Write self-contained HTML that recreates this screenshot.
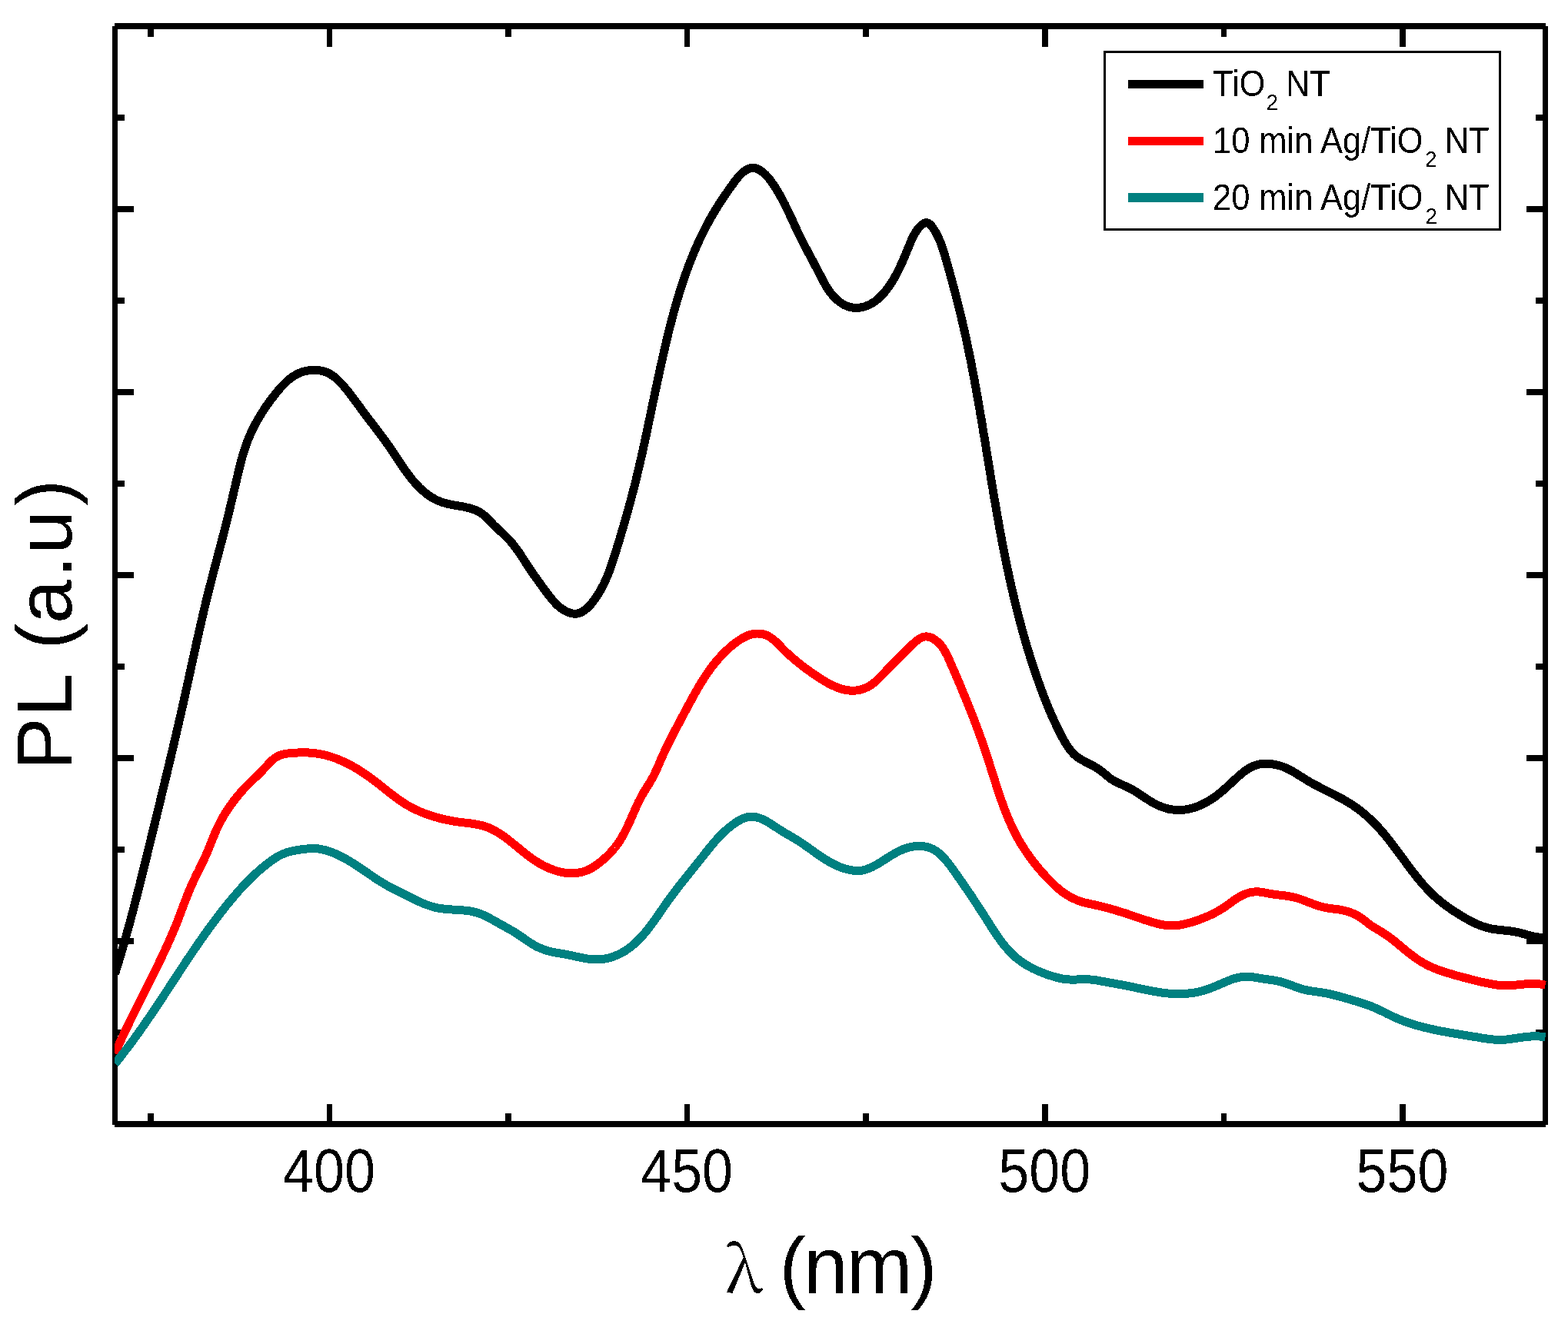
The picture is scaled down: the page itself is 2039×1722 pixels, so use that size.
<!DOCTYPE html>
<html><head><meta charset="utf-8"><title>PL spectra</title><style>html,body{margin:0;padding:0;background:#fff;overflow:hidden}svg{display:block}</style></head><body>
<svg width="2039" height="1722" viewBox="0 0 2039 1722"><defs><filter id="bin" color-interpolation-filters="sRGB"><feComponentTransfer><feFuncA type="discrete" tableValues="0 1"/></feComponentTransfer></filter><clipPath id="pa"><rect x="149" y="30" width="1862" height="1436"/></clipPath></defs><rect width="2039" height="1722" fill="#fff"/><g fill="#000" shape-rendering="crispEdges"><rect x="149" y="30" width="1861" height="8"/><rect x="149" y="1458" width="1861" height="8"/><rect x="146" y="34" width="7" height="1429"/><rect x="2006" y="34" width="7" height="1429"/><rect x="192" y="38" width="8" height="10"/><rect x="192" y="1448" width="8" height="10"/><rect x="425" y="38" width="7" height="23"/><rect x="425" y="1436" width="7" height="22"/><rect x="657" y="38" width="8" height="10"/><rect x="657" y="1448" width="8" height="10"/><rect x="890" y="38" width="7" height="23"/><rect x="890" y="1436" width="7" height="22"/><rect x="1122" y="38" width="8" height="10"/><rect x="1122" y="1448" width="8" height="10"/><rect x="1355" y="38" width="8" height="23"/><rect x="1355" y="1436" width="8" height="22"/><rect x="1588" y="38" width="7" height="10"/><rect x="1588" y="1448" width="7" height="10"/><rect x="1820" y="38" width="8" height="23"/><rect x="1820" y="1436" width="8" height="22"/><rect x="153" y="149" width="9" height="8"/><rect x="1997" y="149" width="9" height="8"/><rect x="153" y="268" width="21" height="8"/><rect x="1985" y="268" width="21" height="8"/><rect x="153" y="387" width="9" height="8"/><rect x="1997" y="387" width="9" height="8"/><rect x="153" y="506" width="21" height="8"/><rect x="1985" y="506" width="21" height="8"/><rect x="153" y="625" width="9" height="8"/><rect x="1997" y="625" width="9" height="8"/><rect x="153" y="744" width="21" height="8"/><rect x="1985" y="744" width="21" height="8"/><rect x="153" y="863" width="9" height="8"/><rect x="1997" y="863" width="9" height="8"/><rect x="153" y="982" width="21" height="8"/><rect x="1985" y="982" width="21" height="8"/><rect x="153" y="1101" width="9" height="8"/><rect x="1997" y="1101" width="9" height="8"/><rect x="153" y="1220" width="21" height="8"/><rect x="1985" y="1220" width="21" height="8"/><rect x="153" y="1339" width="9" height="8"/><rect x="1997" y="1339" width="9" height="8"/></g>
<g clip-path="url(#pa)" fill="none" stroke-width="11" stroke-linejoin="round" stroke-linecap="butt" shape-rendering="crispEdges">
<path stroke="#000000" d="M149.5,1266.5L150.2,1264.1 151.0,1261.7 151.7,1259.3 152.5,1256.9 153.2,1254.6 153.9,1252.2 154.6,1249.8 155.4,1247.4 156.1,1245.0 156.8,1242.6 157.5,1240.2 158.2,1237.8 158.9,1235.4 159.6,1233.0 160.3,1230.6 161.0,1228.2 161.7,1225.8 162.3,1223.4 163.0,1221.0 163.7,1218.6 164.4,1216.2 165.0,1213.7 165.7,1211.3 166.4,1208.9 167.0,1206.5 167.7,1204.1 168.4,1201.7 169.0,1199.3 169.7,1196.9 170.3,1194.4 170.9,1192.0 171.6,1189.6 172.2,1187.2 172.9,1184.8 173.5,1182.4 174.1,1179.9 174.8,1177.5 175.4,1175.1 176.0,1172.7 176.6,1170.3 177.3,1167.8 177.9,1165.4 178.5,1163.0 179.1,1160.6 179.7,1158.2 180.4,1155.7 181.0,1153.3 181.6,1150.9 182.2,1148.5 182.8,1146.0 183.4,1143.6 184.0,1141.2 184.6,1138.8 185.2,1136.3 185.8,1133.9 186.4,1131.5 187.0,1129.1 187.6,1126.6 188.2,1124.2 188.8,1121.8 189.4,1119.3 190.0,1116.9 190.6,1114.5 191.2,1112.1 191.8,1109.6 192.4,1107.2 193.0,1104.8 193.6,1102.3 194.2,1099.9 194.8,1097.5 195.4,1095.1 196.0,1092.6 196.5,1090.2 197.1,1087.8 197.7,1085.3 198.3,1082.9 198.9,1080.5 199.5,1078.1 200.1,1075.6 200.7,1073.2 201.3,1070.8 201.9,1068.3 202.5,1065.9 203.1,1063.5 203.6,1061.1 204.2,1058.6 204.8,1056.2 205.4,1053.8 206.0,1051.3 206.6,1048.9 207.2,1046.5 207.8,1044.1 208.4,1041.6 209.0,1039.2 209.6,1036.8 210.1,1034.3 210.7,1031.9 211.3,1029.5 211.9,1027.0 212.5,1024.6 213.1,1022.2 213.7,1019.8 214.3,1017.3 214.8,1014.9 215.4,1012.5 216.0,1010.0 216.6,1007.6 217.2,1005.2 217.8,1002.7 218.3,1000.3 218.9,997.9 219.5,995.4 220.1,993.0 220.7,990.6 221.2,988.1 221.8,985.7 222.4,983.3 223.0,980.9 223.5,978.4 224.1,976.0 224.7,973.6 225.3,971.1 225.8,968.7 226.4,966.3 227.0,963.8 227.5,961.4 228.1,958.9 228.7,956.5 229.3,954.1 229.8,951.6 230.4,949.2 230.9,946.8 231.5,944.3 232.1,941.9 232.6,939.5 233.2,937.0 233.7,934.6 234.3,932.2 234.9,929.7 235.4,927.3 236.0,924.8 236.5,922.4 237.1,920.0 237.6,917.5 238.2,915.1 238.7,912.6 239.3,910.2 239.8,907.8 240.4,905.3 240.9,902.9 241.4,900.4 242.0,898.0 242.5,895.6 243.1,893.1 243.6,890.7 244.1,888.2 244.7,885.8 245.2,883.4 245.7,880.9 246.3,878.5 246.8,876.0 247.3,873.6 247.9,871.1 248.4,868.7 248.9,866.3 249.5,863.8 250.0,861.4 250.5,858.9 251.1,856.5 251.6,854.0 252.2,851.6 252.7,849.2 253.2,846.7 253.8,844.3 254.3,841.8 254.8,839.4 255.4,837.0 255.9,834.5 256.5,832.1 257.0,829.6 257.6,827.2 258.1,824.8 258.7,822.3 259.2,819.9 259.8,817.4 260.3,815.0 260.9,812.6 261.4,810.1 262.0,807.7 262.6,805.3 263.1,802.8 263.7,800.4 264.3,798.0 264.8,795.5 265.4,793.1 266.0,790.7 266.6,788.2 267.1,785.8 267.7,783.4 268.3,780.9 268.9,778.5 269.5,776.1 270.1,773.6 270.7,771.2 271.3,768.8 271.9,766.4 272.5,763.9 273.1,761.5 273.8,759.1 274.4,756.7 275.0,754.3 275.6,751.8 276.2,749.4 276.9,747.0 277.5,744.6 278.1,742.2 278.8,739.7 279.4,737.3 280.1,734.9 280.7,732.5 281.3,730.1 282.0,727.7 282.6,725.2 283.3,722.8 283.9,720.4 284.5,718.0 285.2,715.6 285.8,713.2 286.5,710.7 287.1,708.3 287.7,705.9 288.4,703.5 289.0,701.1 289.6,698.7 290.3,696.2 290.9,693.8 291.5,691.4 292.1,689.0 292.7,686.5 293.4,684.1 294.0,681.7 294.6,679.3 295.2,676.8 295.8,674.4 296.4,672.0 297.0,669.6 297.6,667.1 298.1,664.7 298.7,662.3 299.3,659.8 299.9,657.4 300.4,655.0 301.0,652.5 301.6,650.1 302.2,647.7 302.7,645.2 303.3,642.8 303.9,640.4 304.4,637.9 305.0,635.5 305.6,633.1 306.1,630.6 306.7,628.2 307.3,625.8 307.8,623.3 308.4,620.9 309.0,618.5 309.6,616.0 310.1,613.6 310.7,611.2 311.3,608.7 311.9,606.3 312.5,603.9 313.2,601.5 313.8,599.0 314.5,596.6 315.1,594.2 315.8,591.8 316.5,589.4 317.3,587.0 318.0,584.7 318.8,582.3 319.6,579.9 320.4,577.6 321.3,575.2 322.2,572.9 323.1,570.6 324.1,568.2 325.1,566.0 326.1,563.7 327.1,561.4 328.2,559.1 329.3,556.9 330.4,554.7 331.6,552.4 332.8,550.2 334.0,548.0 335.2,545.9 336.5,543.7 337.7,541.6 339.0,539.4 340.4,537.3 341.7,535.2 343.1,533.1 344.4,531.0 345.8,528.9 347.3,526.9 348.7,524.8 350.2,522.8 351.6,520.8 353.1,518.8 354.7,516.8 356.2,514.8 357.7,512.9 359.3,510.9 360.9,509.0 362.5,507.1 364.1,505.2 365.8,503.3 367.5,501.5 369.2,499.7 371.0,497.9 372.8,496.2 374.7,494.5 376.6,492.9 378.6,491.4 380.6,490.0 382.7,488.6 384.9,487.4 387.1,486.2 389.4,485.2 391.7,484.2 394.1,483.4 396.5,482.8 398.9,482.2 401.4,481.8 403.9,481.5 406.4,481.3 408.9,481.3 411.4,481.3 413.8,481.6 416.3,481.9 418.8,482.4 421.2,483.0 423.6,483.8 425.9,484.8 428.1,485.9 430.3,487.1 432.4,488.5 434.4,489.9 436.4,491.5 438.2,493.1 440.1,494.9 441.8,496.6 443.6,498.4 445.2,500.3 446.9,502.1 448.5,504.1 450.1,506.0 451.7,507.9 453.3,509.9 454.8,511.8 456.3,513.8 457.8,515.8 459.3,517.8 460.8,519.8 462.3,521.9 463.7,523.9 465.2,525.9 466.7,527.9 468.2,529.9 469.6,532.0 471.1,534.0 472.6,536.0 474.1,538.0 475.6,540.0 477.1,542.0 478.6,544.0 480.1,546.0 481.6,548.0 483.2,549.9 484.7,551.9 486.2,553.9 487.7,555.9 489.2,557.9 490.8,559.9 492.3,561.9 493.8,563.9 495.3,565.9 496.8,567.9 498.3,569.9 499.7,571.9 501.2,573.9 502.7,575.9 504.1,578.0 505.6,580.0 507.0,582.1 508.4,584.1 509.8,586.2 511.2,588.3 512.6,590.3 514.0,592.4 515.4,594.5 516.7,596.6 518.1,598.7 519.5,600.8 520.9,602.8 522.3,604.9 523.7,607.0 525.1,609.0 526.5,611.1 528.0,613.1 529.5,615.1 530.9,617.2 532.5,619.2 534.0,621.1 535.5,623.1 537.1,625.0 538.7,626.9 540.4,628.8 542.1,630.7 543.8,632.5 545.5,634.3 547.3,636.0 549.2,637.7 551.1,639.3 553.0,640.9 554.9,642.5 557.0,644.0 559.0,645.4 561.1,646.7 563.3,648.0 565.5,649.2 567.7,650.3 570.0,651.3 572.3,652.3 574.6,653.2 577.0,653.9 579.4,654.6 581.8,655.2 584.3,655.8 586.7,656.3 589.2,656.7 591.7,657.2 594.1,657.6 596.6,658.0 599.0,658.5 601.5,658.9 604.0,659.4 606.4,659.9 608.8,660.5 611.3,661.1 613.7,661.8 616.0,662.6 618.4,663.5 620.6,664.5 622.9,665.7 625.0,666.9 627.1,668.3 629.0,669.9 630.9,671.5 632.7,673.3 634.5,675.0 636.2,676.8 638.0,678.6 639.7,680.4 641.4,682.2 643.2,684.0 645.0,685.7 646.8,687.4 648.7,689.1 650.5,690.8 652.3,692.5 654.2,694.2 656.0,695.9 657.8,697.7 659.6,699.4 661.3,701.2 663.0,703.1 664.6,705.0 666.2,706.9 667.8,708.8 669.3,710.8 670.8,712.8 672.3,714.8 673.7,716.9 675.2,718.9 676.6,721.0 678.0,723.1 679.3,725.2 680.7,727.3 682.1,729.4 683.4,731.5 684.8,733.6 686.1,735.7 687.5,737.7 688.9,739.8 690.3,741.9 691.7,744.0 693.1,746.0 694.5,748.1 696.0,750.1 697.4,752.2 698.9,754.2 700.3,756.2 701.8,758.3 703.3,760.3 704.7,762.3 706.2,764.3 707.7,766.3 709.2,768.3 710.7,770.3 712.2,772.3 713.7,774.3 715.2,776.3 716.8,778.3 718.4,780.2 720.0,782.1 721.7,783.9 723.4,785.7 725.2,787.5 727.1,789.1 729.1,790.7 731.1,792.1 733.2,793.5 735.4,794.7 737.6,795.8 740.0,796.7 742.3,797.4 744.8,798.0 747.3,798.2 749.8,798.1 752.2,797.6 754.6,796.9 756.9,795.8 759.0,794.5 761.0,793.0 763.0,791.4 764.8,789.7 766.5,787.9 768.2,786.1 769.8,784.1 771.3,782.2 772.8,780.2 774.3,778.1 775.7,776.1 777.1,774.0 778.4,771.9 779.7,769.7 780.9,767.6 782.1,765.4 783.3,763.2 784.5,760.9 785.6,758.7 786.6,756.4 787.6,754.2 788.6,751.9 789.6,749.6 790.6,747.3 791.5,744.9 792.4,742.6 793.2,740.2 794.1,737.9 794.9,735.5 795.7,733.2 796.5,730.8 797.3,728.4 798.1,726.0 798.8,723.7 799.6,721.3 800.3,718.9 801.1,716.5 801.8,714.1 802.5,711.7 803.3,709.3 804.0,706.9 804.7,704.6 805.5,702.2 806.2,699.8 806.9,697.4 807.6,695.0 808.3,692.6 809.0,690.2 809.7,687.8 810.4,685.4 811.1,683.0 811.8,680.6 812.5,678.2 813.2,675.8 813.9,673.4 814.6,671.0 815.3,668.6 815.9,666.2 816.6,663.8 817.3,661.3 817.9,658.9 818.6,656.5 819.3,654.1 819.9,651.7 820.6,649.3 821.2,646.9 821.8,644.4 822.5,642.0 823.1,639.6 823.7,637.2 824.3,634.8 825.0,632.3 825.6,629.9 826.2,627.5 826.8,625.1 827.4,622.6 828.0,620.2 828.5,617.8 829.1,615.3 829.7,612.9 830.3,610.5 830.9,608.1 831.4,605.6 832.0,603.2 832.6,600.7 833.1,598.3 833.7,595.9 834.2,593.4 834.8,591.0 835.3,588.6 835.9,586.1 836.4,583.7 836.9,581.2 837.5,578.8 838.0,576.3 838.5,573.9 839.1,571.5 839.6,569.0 840.1,566.6 840.6,564.1 841.1,561.7 841.7,559.2 842.2,556.8 842.7,554.3 843.2,551.9 843.7,549.4 844.2,547.0 844.8,544.6 845.3,542.1 845.8,539.7 846.3,537.2 846.8,534.8 847.3,532.3 847.8,529.9 848.3,527.4 848.8,525.0 849.3,522.5 849.9,520.1 850.4,517.6 850.9,515.2 851.4,512.7 851.9,510.3 852.4,507.8 852.9,505.4 853.5,503.0 854.0,500.5 854.5,498.1 855.0,495.6 855.5,493.2 856.1,490.7 856.6,488.3 857.1,485.8 857.6,483.4 858.2,481.0 858.7,478.5 859.2,476.1 859.8,473.6 860.3,471.2 860.9,468.7 861.4,466.3 861.9,463.9 862.5,461.4 863.1,459.0 863.6,456.6 864.2,454.1 864.7,451.7 865.3,449.2 865.9,446.8 866.5,444.4 867.0,442.0 867.6,439.5 868.2,437.1 868.8,434.7 869.4,432.2 870.0,429.8 870.6,427.4 871.2,425.0 871.8,422.5 872.5,420.1 873.1,417.7 873.7,415.3 874.4,412.9 875.0,410.4 875.7,408.0 876.3,405.6 877.0,403.2 877.7,400.8 878.3,398.4 879.0,396.0 879.7,393.6 880.4,391.2 881.1,388.8 881.8,386.4 882.6,384.0 883.3,381.6 884.0,379.2 884.8,376.8 885.5,374.5 886.3,372.1 887.1,369.7 887.9,367.3 888.7,365.0 889.5,362.6 890.3,360.2 891.1,357.9 891.9,355.5 892.8,353.2 893.6,350.8 894.5,348.5 895.4,346.1 896.2,343.8 897.1,341.4 898.0,339.1 899.0,336.8 899.9,334.5 900.8,332.1 901.8,329.8 902.7,327.5 903.7,325.2 904.7,322.9 905.7,320.6 906.7,318.4 907.8,316.1 908.8,313.8 909.8,311.5 910.9,309.3 912.0,307.0 913.1,304.8 914.2,302.5 915.3,300.3 916.4,298.1 917.6,295.8 918.7,293.6 919.9,291.4 921.1,289.2 922.3,287.0 923.5,284.8 924.7,282.7 926.0,280.5 927.2,278.3 928.5,276.2 929.8,274.0 931.1,271.9 932.4,269.8 933.7,267.7 935.1,265.5 936.4,263.4 937.8,261.3 939.2,259.3 940.5,257.2 941.9,255.1 943.3,253.0 944.8,251.0 946.2,248.9 947.6,246.9 949.1,244.8 950.5,242.8 952.0,240.8 953.5,238.7 954.9,236.7 956.4,234.7 958.0,232.8 959.6,230.8 961.2,228.9 962.9,227.1 964.7,225.4 966.6,223.7 968.6,222.2 970.7,220.8 972.9,219.7 975.2,218.8 977.7,218.4 980.2,218.4 982.6,218.9 985.0,219.8 987.2,220.9 989.3,222.2 991.4,223.7 993.3,225.3 995.2,226.9 996.9,228.7 998.6,230.6 1000.2,232.5 1001.7,234.5 1003.2,236.5 1004.6,238.5 1006.0,240.6 1007.4,242.7 1008.8,244.8 1010.1,246.9 1011.4,249.1 1012.6,251.2 1013.9,253.4 1015.1,255.6 1016.3,257.8 1017.5,260.0 1018.6,262.2 1019.8,264.4 1020.9,266.6 1022.0,268.9 1023.1,271.1 1024.2,273.4 1025.3,275.6 1026.4,277.9 1027.4,280.1 1028.5,282.4 1029.5,284.7 1030.6,286.9 1031.6,289.2 1032.7,291.5 1033.7,293.8 1034.8,296.0 1035.8,298.3 1036.9,300.6 1038.0,302.8 1039.0,305.1 1040.1,307.3 1041.2,309.6 1042.3,311.8 1043.5,314.0 1044.6,316.3 1045.7,318.5 1046.9,320.7 1048.1,322.9 1049.2,325.1 1050.4,327.3 1051.6,329.5 1052.8,331.7 1054.0,333.9 1055.1,336.1 1056.3,338.3 1057.5,340.5 1058.7,342.8 1059.9,345.0 1061.0,347.2 1062.2,349.4 1063.3,351.6 1064.5,353.8 1065.6,356.0 1066.8,358.3 1067.9,360.5 1069.0,362.7 1070.2,364.9 1071.4,367.2 1072.6,369.3 1073.8,371.5 1075.1,373.6 1076.5,375.8 1077.8,377.8 1079.3,379.9 1080.8,381.8 1082.4,383.8 1084.1,385.6 1085.8,387.4 1087.6,389.2 1089.5,390.8 1091.4,392.4 1093.5,393.9 1095.5,395.2 1097.7,396.5 1100.0,397.6 1102.3,398.5 1104.7,399.3 1107.1,399.8 1109.6,400.2 1112.1,400.4 1114.6,400.4 1117.1,400.2 1119.5,399.9 1122.0,399.4 1124.4,398.7 1126.8,397.9 1129.1,397.0 1131.3,395.9 1133.5,394.7 1135.6,393.4 1137.7,392.0 1139.7,390.5 1141.6,388.9 1143.5,387.2 1145.3,385.5 1147.0,383.7 1148.7,381.8 1150.4,380.0 1151.9,378.0 1153.5,376.0 1155.0,374.0 1156.4,372.0 1157.8,369.9 1159.2,367.8 1160.5,365.7 1161.8,363.6 1163.1,361.4 1164.3,359.2 1165.5,357.1 1166.7,354.8 1167.8,352.6 1168.9,350.4 1170.0,348.1 1171.0,345.8 1172.1,343.6 1173.1,341.3 1174.1,339.0 1175.1,336.7 1176.1,334.4 1177.0,332.1 1178.0,329.8 1178.9,327.5 1179.9,325.2 1180.8,322.9 1181.8,320.5 1182.8,318.2 1183.7,315.9 1184.7,313.6 1185.7,311.3 1186.8,309.1 1187.9,306.8 1189.1,304.6 1190.4,302.5 1191.7,300.4 1193.2,298.4 1194.7,296.4 1196.4,294.5 1198.2,292.8 1200.2,291.3 1202.4,290.1 1204.8,289.6 1207.2,290.2 1209.2,291.7 1210.9,293.5 1212.4,295.5 1213.9,297.5 1215.2,299.6 1216.5,301.8 1217.7,303.9 1218.9,306.2 1220.0,308.4 1221.0,310.7 1222.0,313.0 1223.0,315.3 1223.9,317.6 1224.7,320.0 1225.5,322.3 1226.3,324.7 1227.1,327.1 1227.8,329.5 1228.5,331.9 1229.3,334.3 1229.9,336.7 1230.6,339.1 1231.3,341.5 1232.0,343.9 1232.7,346.3 1233.4,348.7 1234.0,351.1 1234.7,353.5 1235.4,355.9 1236.0,358.3 1236.7,360.7 1237.3,363.1 1238.0,365.6 1238.7,368.0 1239.3,370.4 1239.9,372.8 1240.6,375.2 1241.2,377.6 1241.9,380.1 1242.5,382.5 1243.1,384.9 1243.7,387.3 1244.4,389.7 1245.0,392.2 1245.6,394.6 1246.2,397.0 1246.8,399.4 1247.4,401.9 1248.0,404.3 1248.6,406.7 1249.2,409.1 1249.8,411.6 1250.3,414.0 1250.9,416.4 1251.5,418.9 1252.0,421.3 1252.6,423.7 1253.2,426.2 1253.7,428.6 1254.3,431.1 1254.8,433.5 1255.3,435.9 1255.9,438.4 1256.4,440.8 1256.9,443.3 1257.5,445.7 1258.0,448.2 1258.5,450.6 1259.0,453.1 1259.5,455.5 1260.0,458.0 1260.5,460.4 1261.0,462.9 1261.5,465.3 1262.0,467.8 1262.5,470.2 1263.0,472.7 1263.5,475.1 1263.9,477.6 1264.4,480.0 1264.9,482.5 1265.3,484.9 1265.8,487.4 1266.3,489.8 1266.7,492.3 1267.2,494.8 1267.6,497.2 1268.1,499.7 1268.5,502.1 1269.0,504.6 1269.4,507.1 1269.9,509.5 1270.3,512.0 1270.7,514.4 1271.2,516.9 1271.6,519.4 1272.0,521.8 1272.5,524.3 1272.9,526.8 1273.3,529.2 1273.8,531.7 1274.2,534.1 1274.6,536.6 1275.0,539.1 1275.4,541.5 1275.9,544.0 1276.3,546.5 1276.7,548.9 1277.1,551.4 1277.5,553.9 1277.9,556.3 1278.3,558.8 1278.7,561.3 1279.1,563.7 1279.5,566.2 1280.0,568.7 1280.4,571.1 1280.8,573.6 1281.2,576.1 1281.6,578.5 1282.0,581.0 1282.4,583.5 1282.8,585.9 1283.2,588.4 1283.6,590.9 1284.0,593.3 1284.4,595.8 1284.8,598.3 1285.2,600.7 1285.6,603.2 1286.0,605.7 1286.4,608.1 1286.8,610.6 1287.2,613.1 1287.6,615.5 1288.0,618.0 1288.4,620.5 1288.8,622.9 1289.2,625.4 1289.6,627.9 1290.0,630.3 1290.5,632.8 1290.9,635.3 1291.3,637.7 1291.7,640.2 1292.1,642.7 1292.5,645.1 1292.9,647.6 1293.3,650.1 1293.8,652.5 1294.2,655.0 1294.6,657.5 1295.0,659.9 1295.5,662.4 1295.9,664.9 1296.3,667.3 1296.7,669.8 1297.2,672.2 1297.6,674.7 1298.1,677.2 1298.5,679.6 1298.9,682.1 1299.4,684.5 1299.8,687.0 1300.3,689.5 1300.7,691.9 1301.2,694.4 1301.6,696.8 1302.1,699.3 1302.6,701.8 1303.0,704.2 1303.5,706.7 1304.0,709.1 1304.4,711.6 1304.9,714.0 1305.4,716.5 1305.9,718.9 1306.4,721.4 1306.8,723.8 1307.3,726.3 1307.8,728.7 1308.3,731.2 1308.8,733.6 1309.3,736.1 1309.9,738.5 1310.4,741.0 1310.9,743.4 1311.4,745.9 1311.9,748.3 1312.5,750.8 1313.0,753.2 1313.5,755.6 1314.1,758.1 1314.6,760.5 1315.2,763.0 1315.7,765.4 1316.3,767.8 1316.9,770.3 1317.4,772.7 1318.0,775.1 1318.6,777.6 1319.2,780.0 1319.7,782.4 1320.3,784.9 1320.9,787.3 1321.5,789.7 1322.1,792.1 1322.7,794.6 1323.4,797.0 1324.0,799.4 1324.6,801.8 1325.2,804.3 1325.9,806.7 1326.5,809.1 1327.2,811.5 1327.8,813.9 1328.5,816.3 1329.1,818.7 1329.8,821.2 1330.5,823.6 1331.1,826.0 1331.8,828.4 1332.5,830.8 1333.2,833.2 1333.9,835.6 1334.6,838.0 1335.3,840.4 1336.0,842.8 1336.8,845.2 1337.5,847.5 1338.2,849.9 1339.0,852.3 1339.7,854.7 1340.5,857.1 1341.2,859.5 1342.0,861.9 1342.8,864.2 1343.6,866.6 1344.3,869.0 1345.1,871.4 1345.9,873.7 1346.7,876.1 1347.5,878.5 1348.4,880.8 1349.2,883.2 1350.0,885.5 1350.8,887.9 1351.7,890.2 1352.5,892.6 1353.4,894.9 1354.3,897.3 1355.1,899.6 1356.0,902.0 1356.9,904.3 1357.8,906.6 1358.7,909.0 1359.6,911.3 1360.5,913.6 1361.5,915.9 1362.4,918.3 1363.4,920.6 1364.3,922.9 1365.3,925.2 1366.3,927.5 1367.3,929.8 1368.3,932.1 1369.3,934.3 1370.4,936.6 1371.4,938.9 1372.5,941.1 1373.5,943.4 1374.6,945.7 1375.7,947.9 1376.8,950.1 1378.0,952.4 1379.1,954.6 1380.2,956.8 1381.4,959.0 1382.6,961.2 1383.8,963.4 1385.1,965.6 1386.3,967.7 1387.7,969.8 1389.1,971.9 1390.5,974.0 1392.1,975.9 1393.7,977.8 1395.4,979.7 1397.1,981.4 1399.0,983.1 1401.0,984.6 1403.1,986.0 1405.2,987.4 1407.3,988.6 1409.5,989.8 1411.7,991.0 1414.0,992.2 1416.2,993.3 1418.4,994.4 1420.6,995.6 1422.8,996.8 1425.0,998.1 1427.1,999.4 1429.2,1000.7 1431.2,1002.2 1433.2,1003.7 1435.1,1005.3 1437.0,1006.9 1439.0,1008.5 1440.9,1010.1 1442.8,1011.7 1444.9,1013.2 1446.9,1014.5 1449.1,1015.8 1451.3,1017.0 1453.5,1018.1 1455.8,1019.2 1458.1,1020.2 1460.4,1021.2 1462.7,1022.2 1465.0,1023.2 1467.2,1024.2 1469.4,1025.4 1471.6,1026.6 1473.8,1027.8 1476.0,1029.1 1478.1,1030.4 1480.2,1031.8 1482.3,1033.1 1484.3,1034.5 1486.4,1035.9 1488.5,1037.3 1490.6,1038.7 1492.7,1040.0 1494.8,1041.4 1496.9,1042.7 1499.1,1043.9 1501.3,1045.2 1503.5,1046.3 1505.8,1047.4 1508.0,1048.4 1510.4,1049.3 1512.7,1050.1 1515.1,1050.9 1517.5,1051.6 1519.9,1052.2 1522.4,1052.6 1524.9,1053.0 1527.3,1053.3 1529.8,1053.5 1532.3,1053.6 1534.8,1053.6 1537.3,1053.4 1539.8,1053.2 1542.3,1052.8 1544.8,1052.4 1547.2,1051.9 1549.6,1051.3 1552.0,1050.6 1554.4,1049.8 1556.8,1049.0 1559.1,1048.0 1561.4,1047.1 1563.7,1046.0 1565.9,1044.9 1568.1,1043.8 1570.3,1042.5 1572.5,1041.3 1574.6,1040.0 1576.7,1038.6 1578.7,1037.2 1580.8,1035.7 1582.8,1034.2 1584.7,1032.7 1586.7,1031.1 1588.6,1029.5 1590.5,1027.9 1592.4,1026.3 1594.3,1024.6 1596.1,1022.9 1598.0,1021.2 1599.8,1019.5 1601.6,1017.8 1603.5,1016.1 1605.3,1014.4 1607.1,1012.7 1609.0,1011.1 1610.8,1009.4 1612.7,1007.7 1614.6,1006.1 1616.6,1004.5 1618.6,1003.0 1620.6,1001.6 1622.7,1000.2 1624.8,998.9 1627.0,997.7 1629.3,996.6 1631.6,995.7 1634.0,994.9 1636.4,994.3 1638.8,993.8 1641.3,993.5 1643.8,993.3 1646.3,993.2 1648.8,993.3 1651.3,993.4 1653.8,993.7 1656.3,994.1 1658.7,994.5 1661.2,995.1 1663.6,995.7 1666.0,996.5 1668.3,997.3 1670.6,998.2 1672.9,999.2 1675.2,1000.3 1677.4,1001.4 1679.6,1002.6 1681.8,1003.8 1684.0,1005.1 1686.1,1006.4 1688.2,1007.7 1690.3,1009.0 1692.4,1010.4 1694.6,1011.7 1696.7,1013.0 1698.8,1014.4 1700.9,1015.6 1703.1,1016.9 1705.3,1018.2 1707.5,1019.4 1709.6,1020.6 1711.9,1021.7 1714.1,1022.9 1716.3,1024.1 1718.5,1025.2 1720.7,1026.3 1723.0,1027.5 1725.2,1028.6 1727.4,1029.7 1729.7,1030.8 1731.9,1032.0 1734.1,1033.1 1736.3,1034.2 1738.6,1035.4 1740.8,1036.6 1743.0,1037.7 1745.2,1038.9 1747.4,1040.2 1749.5,1041.4 1751.7,1042.7 1753.8,1044.0 1756.0,1045.3 1758.1,1046.6 1760.1,1048.0 1762.2,1049.4 1764.2,1050.9 1766.3,1052.3 1768.3,1053.8 1770.2,1055.4 1772.2,1056.9 1774.1,1058.5 1776.0,1060.2 1777.9,1061.8 1779.7,1063.5 1781.6,1065.2 1783.4,1066.9 1785.2,1068.6 1786.9,1070.4 1788.7,1072.2 1790.4,1074.0 1792.1,1075.8 1793.8,1077.7 1795.5,1079.6 1797.1,1081.4 1798.7,1083.3 1800.4,1085.2 1801.9,1087.2 1803.5,1089.1 1805.1,1091.1 1806.6,1093.0 1808.2,1095.0 1809.7,1097.0 1811.2,1099.0 1812.7,1101.0 1814.2,1103.0 1815.7,1105.0 1817.2,1107.0 1818.7,1109.0 1820.2,1111.0 1821.6,1113.0 1823.1,1115.0 1824.6,1117.1 1826.1,1119.1 1827.6,1121.1 1829.0,1123.1 1830.5,1125.1 1832.0,1127.1 1833.5,1129.1 1835.0,1131.1 1836.5,1133.1 1838.1,1135.1 1839.6,1137.1 1841.1,1139.0 1842.7,1141.0 1844.3,1142.9 1845.9,1144.8 1847.5,1146.8 1849.1,1148.7 1850.7,1150.5 1852.4,1152.4 1854.1,1154.3 1855.8,1156.1 1857.5,1157.9 1859.3,1159.7 1861.0,1161.5 1862.8,1163.2 1864.6,1164.9 1866.5,1166.6 1868.4,1168.3 1870.2,1169.9 1872.2,1171.5 1874.1,1173.1 1876.1,1174.6 1878.1,1176.1 1880.1,1177.6 1882.1,1179.1 1884.1,1180.6 1886.2,1182.0 1888.2,1183.4 1890.3,1184.8 1892.4,1186.1 1894.5,1187.5 1896.6,1188.8 1898.8,1190.1 1900.9,1191.4 1903.0,1192.7 1905.2,1194.0 1907.4,1195.2 1909.6,1196.4 1911.8,1197.6 1914.0,1198.7 1916.2,1199.9 1918.5,1200.9 1920.8,1202.0 1923.1,1202.9 1925.4,1203.9 1927.7,1204.7 1930.1,1205.5 1932.5,1206.2 1934.9,1206.9 1937.3,1207.5 1939.8,1208.0 1942.3,1208.4 1944.7,1208.7 1947.2,1209.1 1949.7,1209.4 1952.2,1209.6 1954.7,1209.9 1957.1,1210.2 1959.6,1210.4 1962.1,1210.7 1964.6,1211.0 1967.1,1211.4 1969.5,1211.8 1972.0,1212.3 1974.4,1212.8 1976.9,1213.4 1979.3,1214.1 1981.7,1214.7 1984.1,1215.4 1986.5,1216.1 1988.9,1216.7 1991.3,1217.4 1993.8,1217.9 1996.2,1218.4 1998.7,1218.8 2001.2,1219.1 2003.7,1219.3 2006.2,1219.4 2008.7,1219.4 2009.5,1219.3"/>
<path stroke="#ff0000" d="M149.5,1370.5L150.5,1368.2 151.5,1365.9 152.5,1363.6 153.5,1361.3 154.5,1359.0 155.5,1356.8 156.6,1354.5 157.6,1352.2 158.6,1349.9 159.7,1347.7 160.7,1345.4 161.8,1343.1 162.9,1340.9 163.9,1338.6 165.0,1336.4 166.1,1334.1 167.2,1331.9 168.3,1329.6 169.4,1327.4 170.5,1325.1 171.6,1322.9 172.7,1320.6 173.8,1318.4 174.9,1316.2 176.0,1313.9 177.1,1311.7 178.2,1309.4 179.4,1307.2 180.5,1305.0 181.6,1302.7 182.7,1300.5 183.9,1298.3 185.0,1296.0 186.1,1293.8 187.2,1291.6 188.4,1289.3 189.5,1287.1 190.6,1284.9 191.7,1282.6 192.9,1280.4 194.0,1278.2 195.1,1275.9 196.2,1273.7 197.3,1271.5 198.4,1269.2 199.6,1267.0 200.7,1264.7 201.8,1262.5 202.9,1260.3 204.0,1258.0 205.1,1255.8 206.2,1253.5 207.2,1251.3 208.3,1249.0 209.4,1246.8 210.5,1244.5 211.5,1242.2 212.6,1240.0 213.7,1237.7 214.7,1235.4 215.8,1233.2 216.8,1230.9 217.8,1228.6 218.9,1226.3 219.9,1224.1 220.9,1221.8 221.9,1219.5 222.9,1217.2 223.9,1214.9 224.9,1212.6 225.8,1210.3 226.8,1208.0 227.8,1205.7 228.7,1203.4 229.6,1201.0 230.6,1198.7 231.5,1196.4 232.4,1194.1 233.3,1191.7 234.2,1189.4 235.0,1187.1 235.9,1184.7 236.8,1182.4 237.7,1180.0 238.5,1177.7 239.4,1175.3 240.3,1173.0 241.2,1170.7 242.1,1168.3 243.0,1166.0 243.9,1163.7 244.9,1161.4 245.8,1159.0 246.8,1156.7 247.7,1154.4 248.7,1152.2 249.8,1149.9 250.8,1147.6 251.9,1145.3 252.9,1143.1 254.0,1140.8 255.1,1138.6 256.2,1136.3 257.4,1134.1 258.5,1131.9 259.6,1129.6 260.7,1127.4 261.8,1125.1 262.9,1122.9 264.0,1120.6 265.0,1118.4 266.1,1116.1 267.1,1113.8 268.1,1111.6 269.1,1109.3 270.1,1107.0 271.1,1104.6 272.0,1102.3 272.9,1100.0 273.9,1097.7 274.8,1095.4 275.7,1093.0 276.7,1090.7 277.6,1088.4 278.6,1086.1 279.5,1083.8 280.5,1081.5 281.5,1079.2 282.6,1076.9 283.6,1074.7 284.7,1072.4 285.9,1070.2 287.0,1068.0 288.2,1065.8 289.4,1063.6 290.7,1061.4 292.0,1059.3 293.3,1057.2 294.6,1055.1 296.0,1053.0 297.4,1050.9 298.8,1048.8 300.2,1046.8 301.7,1044.8 303.2,1042.7 304.7,1040.8 306.2,1038.8 307.8,1036.8 309.4,1034.9 311.0,1033.0 312.6,1031.1 314.3,1029.2 315.9,1027.4 317.6,1025.5 319.4,1023.7 321.1,1021.9 322.8,1020.1 324.6,1018.3 326.4,1016.6 328.2,1014.9 330.0,1013.1 331.8,1011.4 333.6,1009.7 335.4,1007.9 337.2,1006.2 338.9,1004.4 340.7,1002.6 342.4,1000.8 344.2,999.0 345.8,997.2 347.5,995.3 349.2,993.5 351.0,991.7 352.7,989.9 354.6,988.2 356.5,986.6 358.5,985.2 360.7,983.9 362.9,982.8 365.2,981.9 367.6,981.2 370.1,980.6 372.5,980.2 375.0,979.9 377.5,979.6 380.0,979.4 382.5,979.2 385.0,979.1 387.5,979.0 390.0,978.9 392.5,978.8 395.0,978.8 397.5,978.9 400.0,978.9 402.5,979.1 405.0,979.2 407.5,979.5 409.9,979.8 412.4,980.1 414.9,980.5 417.3,980.9 419.8,981.5 422.2,982.0 424.7,982.6 427.1,983.3 429.5,984.0 431.8,984.8 434.2,985.6 436.6,986.4 438.9,987.3 441.2,988.3 443.5,989.2 445.8,990.3 448.1,991.3 450.3,992.4 452.6,993.5 454.8,994.7 457.0,995.8 459.2,997.0 461.3,998.3 463.5,999.5 465.6,1000.8 467.8,1002.2 469.9,1003.5 472.0,1004.9 474.0,1006.3 476.1,1007.7 478.2,1009.1 480.2,1010.5 482.2,1012.0 484.2,1013.5 486.2,1015.0 488.2,1016.5 490.2,1018.0 492.2,1019.6 494.1,1021.1 496.1,1022.7 498.0,1024.2 500.0,1025.8 501.9,1027.4 503.9,1028.9 505.9,1030.5 507.8,1032.0 509.8,1033.5 511.8,1035.1 513.8,1036.6 515.8,1038.0 517.8,1039.5 519.9,1040.9 521.9,1042.4 524.0,1043.7 526.1,1045.1 528.3,1046.4 530.4,1047.7 532.6,1048.9 534.8,1050.1 537.0,1051.3 539.2,1052.4 541.5,1053.5 543.8,1054.5 546.1,1055.5 548.4,1056.5 550.7,1057.4 553.0,1058.3 555.4,1059.1 557.7,1060.0 560.1,1060.8 562.5,1061.5 564.9,1062.3 567.3,1063.0 569.7,1063.6 572.1,1064.3 574.5,1064.9 576.9,1065.5 579.4,1066.0 581.8,1066.5 584.3,1067.0 586.7,1067.5 589.2,1067.9 591.7,1068.3 594.1,1068.7 596.6,1069.1 599.1,1069.4 601.6,1069.7 604.0,1070.0 606.5,1070.3 609.0,1070.6 611.5,1070.9 614.0,1071.2 616.4,1071.6 618.9,1072.0 621.4,1072.4 623.8,1073.0 626.3,1073.5 628.7,1074.2 631.0,1075.0 633.4,1075.8 635.7,1076.7 638.0,1077.7 640.3,1078.8 642.5,1079.9 644.7,1081.1 646.9,1082.4 649.0,1083.7 651.1,1085.0 653.2,1086.4 655.2,1087.9 657.2,1089.3 659.2,1090.8 661.2,1092.4 663.2,1093.9 665.1,1095.5 667.1,1097.0 669.0,1098.6 671.0,1100.2 672.9,1101.8 674.8,1103.4 676.7,1105.0 678.7,1106.5 680.6,1108.1 682.6,1109.7 684.5,1111.2 686.5,1112.7 688.5,1114.2 690.5,1115.7 692.6,1117.2 694.6,1118.6 696.7,1120.0 698.8,1121.3 701.0,1122.6 703.1,1123.9 705.3,1125.1 707.5,1126.2 709.8,1127.3 712.0,1128.4 714.3,1129.4 716.7,1130.3 719.0,1131.2 721.4,1132.0 723.7,1132.8 726.1,1133.4 728.6,1134.0 731.0,1134.6 733.5,1135.0 736.0,1135.3 738.4,1135.6 740.9,1135.8 743.4,1135.8 745.9,1135.8 748.4,1135.6 750.9,1135.3 753.4,1134.9 755.8,1134.4 758.2,1133.8 760.6,1133.0 763.0,1132.1 765.2,1131.1 767.5,1130.0 769.7,1128.8 771.8,1127.5 773.9,1126.1 776.0,1124.7 778.0,1123.2 780.0,1121.7 781.9,1120.1 783.8,1118.5 785.7,1116.9 787.6,1115.2 789.4,1113.5 791.2,1111.7 792.9,1110.0 794.6,1108.1 796.3,1106.3 797.9,1104.4 799.5,1102.5 801.1,1100.5 802.6,1098.5 804.0,1096.5 805.4,1094.4 806.8,1092.3 808.1,1090.1 809.3,1088.0 810.5,1085.8 811.7,1083.6 812.9,1081.4 814.0,1079.1 815.1,1076.9 816.2,1074.6 817.2,1072.4 818.2,1070.1 819.3,1067.8 820.3,1065.5 821.3,1063.2 822.3,1060.9 823.3,1058.6 824.3,1056.4 825.3,1054.1 826.3,1051.8 827.3,1049.5 828.4,1047.2 829.5,1045.0 830.5,1042.7 831.7,1040.5 832.8,1038.3 834.0,1036.1 835.2,1033.9 836.4,1031.7 837.7,1029.5 839.0,1027.4 840.3,1025.3 841.6,1023.2 842.9,1021.0 844.3,1018.9 845.6,1016.8 846.8,1014.6 848.1,1012.5 849.3,1010.3 850.5,1008.1 851.6,1005.8 852.6,1003.6 853.7,1001.3 854.7,999.0 855.7,996.7 856.7,994.4 857.7,992.1 858.6,989.8 859.6,987.5 860.7,985.2 861.7,983.0 862.7,980.7 863.8,978.4 864.8,976.1 865.9,973.9 867.0,971.6 868.1,969.4 869.2,967.1 870.3,964.9 871.4,962.7 872.5,960.4 873.6,958.2 874.8,956.0 875.9,953.7 877.1,951.5 878.2,949.3 879.4,947.1 880.5,944.9 881.7,942.7 882.9,940.5 884.1,938.3 885.2,936.0 886.4,933.8 887.6,931.6 888.8,929.4 889.9,927.2 891.1,925.0 892.3,922.8 893.5,920.6 894.7,918.4 895.8,916.2 897.0,914.0 898.2,911.8 899.4,909.6 900.6,907.4 901.8,905.2 903.0,903.0 904.2,900.9 905.5,898.7 906.7,896.5 908.0,894.3 909.2,892.2 910.5,890.0 911.8,887.9 913.1,885.8 914.5,883.7 915.8,881.6 917.2,879.5 918.6,877.4 920.0,875.3 921.4,873.3 922.8,871.2 924.3,869.2 925.8,867.2 927.3,865.2 928.9,863.3 930.5,861.3 932.1,859.4 933.7,857.5 935.3,855.6 937.0,853.8 938.7,852.0 940.5,850.2 942.2,848.4 944.0,846.7 945.9,844.9 947.7,843.3 949.6,841.6 951.5,840.0 953.4,838.4 955.4,836.9 957.4,835.4 959.4,833.9 961.5,832.5 963.6,831.2 965.8,829.9 968.0,828.7 970.2,827.6 972.5,826.6 974.8,825.7 977.2,825.0 979.7,824.5 982.2,824.1 984.6,824.0 987.1,824.0 989.6,824.3 992.1,824.8 994.5,825.5 996.8,826.3 999.1,827.4 1001.2,828.6 1003.3,830.0 1005.3,831.6 1007.2,833.2 1009.1,834.8 1010.9,836.6 1012.6,838.3 1014.4,840.1 1016.1,841.9 1017.9,843.7 1019.7,845.5 1021.4,847.2 1023.2,849.0 1025.1,850.7 1026.9,852.3 1028.8,854.0 1030.7,855.7 1032.6,857.3 1034.5,858.9 1036.4,860.5 1038.3,862.1 1040.3,863.6 1042.3,865.2 1044.2,866.7 1046.2,868.2 1048.2,869.7 1050.3,871.2 1052.3,872.6 1054.3,874.1 1056.4,875.5 1058.4,877.0 1060.5,878.4 1062.6,879.8 1064.6,881.1 1066.7,882.5 1068.8,883.8 1071.0,885.2 1073.1,886.4 1075.3,887.7 1077.5,888.9 1079.7,890.1 1081.9,891.2 1084.2,892.2 1086.5,893.2 1088.8,894.2 1091.2,895.0 1093.5,895.8 1095.9,896.5 1098.4,897.1 1100.8,897.5 1103.3,897.9 1105.8,898.1 1108.3,898.2 1110.8,898.2 1113.3,898.0 1115.8,897.7 1118.2,897.2 1120.6,896.6 1123.0,895.8 1125.3,894.9 1127.6,893.9 1129.8,892.7 1131.9,891.4 1134.0,890.0 1136.0,888.5 1137.9,886.9 1139.8,885.2 1141.6,883.5 1143.4,881.7 1145.1,879.9 1146.9,878.1 1148.6,876.3 1150.3,874.5 1152.1,872.7 1153.8,870.9 1155.5,869.1 1157.3,867.3 1159.0,865.6 1160.7,863.8 1162.5,862.0 1164.2,860.2 1166.0,858.4 1167.7,856.6 1169.5,854.8 1171.3,853.1 1173.0,851.3 1174.8,849.5 1176.6,847.8 1178.4,846.0 1180.2,844.3 1182.0,842.5 1183.8,840.8 1185.6,839.1 1187.4,837.4 1189.2,835.7 1191.1,834.0 1193.1,832.5 1195.1,831.1 1197.3,829.8 1199.6,828.8 1202.0,828.1 1204.4,827.9 1206.9,828.1 1209.3,828.7 1211.7,829.7 1213.9,830.9 1216.0,832.2 1217.9,833.8 1219.8,835.4 1221.6,837.2 1223.3,839.0 1224.8,841.0 1226.3,843.0 1227.6,845.1 1228.9,847.3 1230.1,849.5 1231.3,851.7 1232.4,853.9 1233.4,856.2 1234.4,858.5 1235.4,860.8 1236.4,863.1 1237.4,865.4 1238.4,867.6 1239.4,869.9 1240.4,872.2 1241.4,874.5 1242.4,876.8 1243.4,879.1 1244.4,881.4 1245.3,883.7 1246.3,886.0 1247.3,888.3 1248.3,890.6 1249.2,892.9 1250.2,895.2 1251.2,897.5 1252.1,899.9 1253.1,902.2 1254.0,904.5 1255.0,906.8 1255.9,909.1 1256.9,911.4 1257.8,913.7 1258.8,916.0 1259.7,918.4 1260.6,920.7 1261.5,923.0 1262.5,925.3 1263.4,927.7 1264.3,930.0 1265.2,932.3 1266.1,934.6 1267.0,937.0 1267.9,939.3 1268.8,941.7 1269.7,944.0 1270.5,946.3 1271.4,948.7 1272.3,951.0 1273.1,953.4 1274.0,955.7 1274.8,958.1 1275.7,960.4 1276.5,962.8 1277.3,965.1 1278.2,967.5 1279.0,969.9 1279.8,972.2 1280.6,974.6 1281.4,977.0 1282.2,979.3 1282.9,981.7 1283.7,984.1 1284.5,986.5 1285.3,988.9 1286.0,991.2 1286.8,993.6 1287.5,996.0 1288.3,998.4 1289.0,1000.8 1289.8,1003.2 1290.5,1005.5 1291.3,1007.9 1292.0,1010.3 1292.8,1012.7 1293.6,1015.1 1294.3,1017.5 1295.1,1019.8 1295.8,1022.2 1296.6,1024.6 1297.4,1027.0 1298.2,1029.3 1299.0,1031.7 1299.8,1034.1 1300.6,1036.4 1301.4,1038.8 1302.2,1041.2 1303.1,1043.5 1303.9,1045.9 1304.8,1048.2 1305.6,1050.6 1306.5,1052.9 1307.4,1055.2 1308.3,1057.6 1309.3,1059.9 1310.2,1062.2 1311.2,1064.5 1312.2,1066.8 1313.2,1069.1 1314.2,1071.4 1315.2,1073.7 1316.3,1075.9 1317.3,1078.2 1318.4,1080.4 1319.5,1082.7 1320.7,1084.9 1321.8,1087.1 1323.0,1089.3 1324.2,1091.5 1325.5,1093.7 1326.7,1095.8 1328.0,1098.0 1329.3,1100.1 1330.7,1102.2 1332.0,1104.3 1333.4,1106.4 1334.8,1108.5 1336.2,1110.5 1337.7,1112.6 1339.1,1114.6 1340.6,1116.6 1342.1,1118.6 1343.6,1120.6 1345.2,1122.6 1346.7,1124.5 1348.3,1126.5 1349.9,1128.4 1351.5,1130.3 1353.1,1132.2 1354.8,1134.1 1356.4,1136.0 1358.1,1137.8 1359.8,1139.7 1361.5,1141.5 1363.2,1143.3 1365.0,1145.1 1366.7,1146.9 1368.5,1148.7 1370.3,1150.4 1372.1,1152.1 1373.9,1153.8 1375.8,1155.4 1377.8,1157.0 1379.7,1158.6 1381.7,1160.1 1383.8,1161.5 1385.8,1162.9 1387.9,1164.3 1390.1,1165.5 1392.3,1166.8 1394.5,1167.9 1396.7,1169.0 1399.0,1170.0 1401.3,1171.0 1403.7,1171.8 1406.0,1172.6 1408.4,1173.4 1410.8,1174.0 1413.3,1174.6 1415.7,1175.2 1418.1,1175.7 1420.6,1176.3 1423.0,1176.8 1425.5,1177.3 1427.9,1177.9 1430.3,1178.5 1432.8,1179.0 1435.2,1179.7 1437.6,1180.3 1440.0,1180.9 1442.4,1181.6 1444.9,1182.3 1447.3,1182.9 1449.7,1183.6 1452.1,1184.4 1454.4,1185.1 1456.8,1185.8 1459.2,1186.6 1461.6,1187.3 1464.0,1188.1 1466.4,1188.9 1468.7,1189.7 1471.1,1190.5 1473.5,1191.3 1475.8,1192.1 1478.2,1192.9 1480.6,1193.7 1482.9,1194.5 1485.3,1195.3 1487.7,1196.1 1490.0,1196.9 1492.4,1197.6 1494.8,1198.4 1497.2,1199.1 1499.6,1199.8 1502.0,1200.5 1504.4,1201.1 1506.8,1201.7 1509.3,1202.3 1511.7,1202.7 1514.2,1203.1 1516.7,1203.4 1519.2,1203.7 1521.7,1203.8 1524.2,1203.9 1526.7,1203.8 1529.2,1203.6 1531.7,1203.4 1534.1,1203.0 1536.6,1202.6 1539.0,1202.1 1541.5,1201.5 1543.9,1200.9 1546.3,1200.3 1548.7,1199.6 1551.1,1198.9 1553.5,1198.1 1555.9,1197.3 1558.2,1196.5 1560.6,1195.7 1562.9,1194.8 1565.3,1193.9 1567.6,1192.9 1569.9,1192.0 1572.2,1190.9 1574.4,1189.9 1576.7,1188.8 1578.9,1187.7 1581.1,1186.5 1583.3,1185.3 1585.5,1184.0 1587.6,1182.8 1589.7,1181.4 1591.8,1180.1 1593.9,1178.7 1595.9,1177.2 1598.0,1175.8 1600.0,1174.3 1602.0,1172.8 1604.1,1171.4 1606.1,1170.0 1608.2,1168.6 1610.3,1167.3 1612.5,1166.0 1614.7,1164.8 1616.9,1163.8 1619.3,1162.8 1621.6,1162.0 1624.0,1161.2 1626.4,1160.7 1628.9,1160.2 1631.4,1160.0 1633.9,1159.8 1636.4,1159.9 1638.9,1160.1 1641.4,1160.4 1643.8,1160.8 1646.3,1161.3 1648.7,1161.8 1651.2,1162.3 1653.6,1162.7 1656.1,1163.1 1658.6,1163.4 1661.1,1163.8 1663.6,1164.1 1666.0,1164.3 1668.5,1164.6 1671.0,1164.9 1673.5,1165.3 1675.9,1165.7 1678.4,1166.1 1680.9,1166.6 1683.3,1167.2 1685.7,1167.8 1688.1,1168.5 1690.5,1169.3 1692.8,1170.1 1695.2,1171.0 1697.5,1171.9 1699.9,1172.8 1702.2,1173.7 1704.5,1174.5 1706.9,1175.4 1709.2,1176.3 1711.6,1177.1 1713.9,1177.9 1716.3,1178.6 1718.7,1179.3 1721.2,1179.9 1723.6,1180.5 1726.1,1180.9 1728.5,1181.3 1731.0,1181.6 1733.5,1182.0 1736.0,1182.3 1738.5,1182.6 1740.9,1182.9 1743.4,1183.3 1745.9,1183.8 1748.3,1184.3 1750.7,1185.0 1753.1,1185.7 1755.5,1186.5 1757.8,1187.4 1760.1,1188.4 1762.4,1189.4 1764.6,1190.6 1766.7,1191.8 1768.9,1193.2 1770.9,1194.6 1772.9,1196.1 1774.9,1197.6 1776.9,1199.1 1778.9,1200.7 1780.8,1202.2 1782.9,1203.7 1784.9,1205.1 1787.0,1206.4 1789.2,1207.7 1791.3,1209.0 1793.5,1210.3 1795.6,1211.5 1797.8,1212.8 1799.9,1214.2 1802.0,1215.5 1804.0,1217.0 1806.0,1218.4 1808.1,1219.9 1810.0,1221.4 1812.0,1223.0 1814.0,1224.5 1815.9,1226.1 1817.8,1227.7 1819.8,1229.3 1821.7,1230.9 1823.6,1232.5 1825.5,1234.1 1827.5,1235.7 1829.4,1237.3 1831.3,1238.8 1833.3,1240.4 1835.3,1241.9 1837.3,1243.4 1839.3,1244.9 1841.3,1246.4 1843.4,1247.8 1845.4,1249.2 1847.6,1250.5 1849.7,1251.8 1851.9,1253.0 1854.1,1254.2 1856.3,1255.4 1858.5,1256.5 1860.8,1257.5 1863.1,1258.5 1865.4,1259.5 1867.7,1260.4 1870.1,1261.3 1872.4,1262.1 1874.8,1263.0 1877.1,1263.8 1879.5,1264.5 1881.9,1265.3 1884.3,1266.0 1886.7,1266.7 1889.1,1267.4 1891.5,1268.1 1893.9,1268.8 1896.3,1269.4 1898.7,1270.1 1901.2,1270.7 1903.6,1271.4 1906.0,1272.0 1908.4,1272.6 1910.8,1273.3 1913.3,1273.9 1915.7,1274.5 1918.1,1275.1 1920.5,1275.7 1923.0,1276.3 1925.4,1276.9 1927.8,1277.4 1930.3,1278.0 1932.7,1278.5 1935.2,1279.0 1937.6,1279.5 1940.1,1280.0 1942.5,1280.4 1945.0,1280.8 1947.5,1281.1 1950.0,1281.4 1952.4,1281.6 1954.9,1281.8 1957.4,1281.8 1959.9,1281.8 1962.4,1281.8 1964.9,1281.6 1967.4,1281.4 1969.9,1281.2 1972.4,1281.0 1974.9,1280.7 1977.4,1280.5 1979.9,1280.2 1982.4,1280.0 1984.9,1279.8 1987.3,1279.6 1989.8,1279.5 1992.3,1279.4 1994.8,1279.4 1997.3,1279.5 1999.8,1279.6 2002.3,1279.9 2004.8,1280.2 2007.3,1280.7 2009.5,1281.2"/>
<path stroke="#008080" d="M149.5,1383.5L151.1,1381.6 152.7,1379.6 154.2,1377.7 155.8,1375.7 157.3,1373.7 158.9,1371.8 160.4,1369.8 161.9,1367.8 163.4,1365.8 165.0,1363.9 166.5,1361.9 168.0,1359.9 169.5,1357.9 171.0,1355.9 172.4,1353.8 173.9,1351.8 175.4,1349.8 176.8,1347.8 178.3,1345.7 179.8,1343.7 181.2,1341.7 182.7,1339.6 184.1,1337.6 185.5,1335.5 187.0,1333.5 188.4,1331.4 189.8,1329.4 191.2,1327.3 192.6,1325.3 194.1,1323.2 195.5,1321.1 196.9,1319.1 198.3,1317.0 199.7,1314.9 201.1,1312.8 202.4,1310.8 203.8,1308.7 205.2,1306.6 206.6,1304.5 208.0,1302.4 209.4,1300.4 210.7,1298.3 212.1,1296.2 213.5,1294.1 214.9,1292.0 216.2,1289.9 217.6,1287.8 219.0,1285.7 220.4,1283.6 221.7,1281.6 223.1,1279.5 224.5,1277.4 225.8,1275.3 227.2,1273.2 228.6,1271.1 229.9,1269.0 231.3,1266.9 232.7,1264.8 234.1,1262.7 235.4,1260.6 236.8,1258.6 238.2,1256.5 239.6,1254.4 241.0,1252.3 242.3,1250.2 243.7,1248.1 245.1,1246.1 246.5,1244.0 247.9,1241.9 249.3,1239.8 250.7,1237.8 252.1,1235.7 253.5,1233.6 254.9,1231.6 256.3,1229.5 257.7,1227.4 259.2,1225.4 260.6,1223.3 262.0,1221.3 263.5,1219.2 264.9,1217.2 266.3,1215.2 267.8,1213.1 269.2,1211.1 270.7,1209.1 272.2,1207.0 273.6,1205.0 275.1,1203.0 276.6,1201.0 278.1,1199.0 279.6,1197.0 281.1,1195.0 282.6,1193.0 284.1,1191.0 285.6,1189.0 287.2,1187.0 288.7,1185.0 290.2,1183.1 291.8,1181.1 293.3,1179.2 294.9,1177.2 296.5,1175.3 298.1,1173.3 299.6,1171.4 301.2,1169.5 302.8,1167.6 304.5,1165.7 306.1,1163.8 307.7,1161.9 309.4,1160.0 311.0,1158.1 312.7,1156.3 314.4,1154.4 316.1,1152.6 317.8,1150.7 319.5,1148.9 321.2,1147.1 323.0,1145.4 324.8,1143.6 326.5,1141.8 328.3,1140.1 330.2,1138.4 332.0,1136.7 333.8,1135.0 335.7,1133.3 337.6,1131.7 339.5,1130.0 341.4,1128.4 343.3,1126.8 345.3,1125.3 347.2,1123.7 349.2,1122.2 351.2,1120.7 353.2,1119.2 355.3,1117.8 357.4,1116.4 359.5,1115.1 361.6,1113.8 363.8,1112.6 366.1,1111.5 368.3,1110.5 370.7,1109.6 373.0,1108.7 375.4,1108.0 377.8,1107.4 380.3,1106.8 382.7,1106.3 385.2,1105.8 387.6,1105.4 390.1,1105.1 392.6,1104.7 395.1,1104.4 397.6,1104.2 400.0,1103.9 402.5,1103.7 405.0,1103.6 407.5,1103.6 410.0,1103.6 412.5,1103.8 415.0,1104.1 417.5,1104.5 419.9,1105.0 422.4,1105.6 424.8,1106.3 427.2,1107.0 429.5,1107.8 431.9,1108.7 434.2,1109.6 436.5,1110.6 438.8,1111.6 441.0,1112.7 443.3,1113.8 445.5,1114.9 447.7,1116.1 449.9,1117.3 452.1,1118.5 454.2,1119.8 456.4,1121.1 458.5,1122.4 460.6,1123.8 462.7,1125.1 464.8,1126.5 466.9,1127.9 468.9,1129.3 471.0,1130.7 473.1,1132.1 475.1,1133.5 477.2,1134.9 479.3,1136.3 481.3,1137.7 483.4,1139.1 485.5,1140.5 487.5,1141.9 489.6,1143.3 491.7,1144.7 493.8,1146.0 495.9,1147.3 498.1,1148.6 500.2,1149.9 502.4,1151.2 504.6,1152.4 506.8,1153.6 509.0,1154.8 511.2,1155.9 513.4,1157.0 515.7,1158.1 517.9,1159.2 520.2,1160.3 522.4,1161.4 524.7,1162.5 526.9,1163.7 529.1,1164.8 531.3,1165.9 533.6,1167.1 535.8,1168.2 538.0,1169.3 540.3,1170.5 542.5,1171.5 544.8,1172.6 547.1,1173.6 549.3,1174.6 551.7,1175.6 554.0,1176.5 556.3,1177.3 558.7,1178.1 561.1,1178.9 563.5,1179.6 565.9,1180.2 568.4,1180.7 570.8,1181.2 573.3,1181.5 575.8,1181.9 578.3,1182.2 580.7,1182.4 583.2,1182.6 585.7,1182.8 588.2,1183.0 590.7,1183.1 593.2,1183.3 595.7,1183.4 598.2,1183.6 600.7,1183.8 603.2,1184.0 605.7,1184.3 608.2,1184.6 610.6,1184.9 613.1,1185.4 615.5,1185.9 618.0,1186.4 620.4,1187.1 622.8,1187.9 625.1,1188.7 627.4,1189.7 629.7,1190.7 632.0,1191.7 634.2,1192.8 636.4,1194.0 638.6,1195.2 640.8,1196.4 643.0,1197.6 645.2,1198.9 647.3,1200.1 649.5,1201.3 651.7,1202.6 653.9,1203.8 656.1,1205.0 658.3,1206.2 660.4,1207.4 662.6,1208.6 664.8,1209.9 667.0,1211.1 669.1,1212.4 671.2,1213.7 673.3,1215.1 675.4,1216.5 677.5,1217.9 679.5,1219.3 681.6,1220.8 683.6,1222.2 685.6,1223.6 687.7,1225.0 689.8,1226.4 691.9,1227.8 694.1,1229.0 696.2,1230.3 698.5,1231.4 700.7,1232.4 703.0,1233.4 705.4,1234.3 707.7,1235.2 710.1,1236.0 712.5,1236.7 714.9,1237.3 717.3,1237.9 719.8,1238.4 722.2,1238.9 724.7,1239.4 727.2,1239.8 729.6,1240.2 732.1,1240.6 734.5,1241.1 737.0,1241.5 739.5,1242.0 741.9,1242.5 744.3,1243.0 746.8,1243.6 749.2,1244.1 751.7,1244.7 754.1,1245.2 756.6,1245.7 759.0,1246.2 761.5,1246.6 763.9,1247.0 766.4,1247.3 768.9,1247.6 771.4,1247.8 773.9,1247.9 776.4,1247.9 778.9,1247.9 781.4,1247.7 783.9,1247.4 786.3,1247.0 788.8,1246.6 791.2,1246.0 793.7,1245.4 796.0,1244.6 798.4,1243.8 800.7,1242.9 803.0,1241.9 805.3,1240.9 807.5,1239.7 809.7,1238.5 811.9,1237.3 814.0,1235.9 816.1,1234.5 818.1,1233.1 820.1,1231.6 822.0,1230.0 823.9,1228.4 825.8,1226.7 827.6,1225.0 829.4,1223.3 831.2,1221.5 832.9,1219.7 834.6,1217.9 836.3,1216.0 837.9,1214.1 839.5,1212.2 841.1,1210.3 842.7,1208.3 844.2,1206.3 845.7,1204.3 847.2,1202.3 848.7,1200.3 850.2,1198.3 851.6,1196.3 853.1,1194.2 854.5,1192.2 855.9,1190.1 857.3,1188.0 858.7,1186.0 860.2,1183.9 861.6,1181.9 863.0,1179.8 864.4,1177.7 865.8,1175.7 867.3,1173.7 868.7,1171.6 870.2,1169.6 871.7,1167.6 873.2,1165.6 874.6,1163.6 876.1,1161.6 877.7,1159.6 879.2,1157.6 880.7,1155.6 882.2,1153.6 883.8,1151.6 885.3,1149.7 886.9,1147.7 888.4,1145.8 890.0,1143.8 891.5,1141.8 893.1,1139.9 894.6,1137.9 896.2,1136.0 897.8,1134.0 899.3,1132.1 900.9,1130.1 902.5,1128.2 904.0,1126.2 905.6,1124.3 907.2,1122.3 908.7,1120.4 910.3,1118.4 911.8,1116.5 913.4,1114.5 914.9,1112.5 916.5,1110.6 918.0,1108.6 919.6,1106.7 921.1,1104.7 922.7,1102.8 924.3,1100.8 925.9,1098.9 927.5,1097.0 929.1,1095.1 930.8,1093.2 932.4,1091.4 934.1,1089.5 935.8,1087.7 937.6,1085.9 939.4,1084.1 941.2,1082.4 943.0,1080.7 944.9,1079.0 946.8,1077.4 948.7,1075.8 950.6,1074.3 952.6,1072.8 954.7,1071.3 956.7,1069.9 958.8,1068.5 961.0,1067.2 963.2,1066.0 965.4,1064.9 967.7,1064.0 970.1,1063.2 972.5,1062.6 975.0,1062.2 977.5,1062.1 980.0,1062.2 982.4,1062.6 984.9,1063.2 987.3,1063.9 989.6,1064.8 991.9,1065.8 994.2,1066.8 996.4,1068.0 998.5,1069.2 1000.7,1070.5 1002.8,1071.8 1004.9,1073.2 1007.0,1074.6 1009.1,1075.9 1011.2,1077.3 1013.3,1078.7 1015.4,1080.0 1017.5,1081.3 1019.6,1082.6 1021.8,1083.9 1024.0,1085.2 1026.1,1086.4 1028.3,1087.7 1030.4,1089.0 1032.6,1090.2 1034.7,1091.5 1036.9,1092.8 1039.0,1094.2 1041.1,1095.5 1043.1,1096.9 1045.2,1098.3 1047.3,1099.8 1049.3,1101.2 1051.3,1102.6 1053.4,1104.1 1055.4,1105.5 1057.5,1107.0 1059.5,1108.4 1061.5,1109.9 1063.6,1111.3 1065.6,1112.7 1067.7,1114.1 1069.8,1115.5 1071.9,1116.9 1074.0,1118.2 1076.2,1119.5 1078.3,1120.8 1080.5,1122.0 1082.7,1123.2 1084.9,1124.3 1087.2,1125.4 1089.5,1126.4 1091.8,1127.4 1094.1,1128.3 1096.4,1129.1 1098.8,1129.9 1101.2,1130.5 1103.7,1131.1 1106.1,1131.6 1108.6,1132.0 1111.1,1132.3 1113.6,1132.5 1116.1,1132.5 1118.6,1132.4 1121.0,1132.1 1123.5,1131.6 1125.9,1130.9 1128.3,1130.1 1130.6,1129.2 1132.9,1128.2 1135.1,1127.1 1137.3,1125.9 1139.5,1124.7 1141.7,1123.5 1143.8,1122.2 1146.0,1120.9 1148.1,1119.5 1150.2,1118.2 1152.3,1116.8 1154.4,1115.5 1156.5,1114.2 1158.6,1112.8 1160.8,1111.6 1162.9,1110.3 1165.1,1109.1 1167.3,1107.9 1169.6,1106.8 1171.8,1105.7 1174.1,1104.7 1176.4,1103.8 1178.8,1103.0 1181.2,1102.3 1183.6,1101.7 1186.1,1101.2 1188.5,1100.8 1191.0,1100.5 1193.5,1100.3 1196.0,1100.3 1198.5,1100.4 1201.0,1100.7 1203.5,1101.1 1205.9,1101.6 1208.3,1102.4 1210.6,1103.3 1212.9,1104.3 1215.1,1105.6 1217.2,1106.9 1219.2,1108.3 1221.2,1109.9 1223.1,1111.5 1224.9,1113.3 1226.6,1115.0 1228.3,1116.9 1230.0,1118.8 1231.6,1120.7 1233.1,1122.6 1234.7,1124.6 1236.2,1126.6 1237.6,1128.6 1239.1,1130.6 1240.6,1132.7 1242.0,1134.7 1243.4,1136.8 1244.9,1138.8 1246.3,1140.9 1247.7,1142.9 1249.2,1145.0 1250.6,1147.0 1252.0,1149.1 1253.4,1151.1 1254.8,1153.2 1256.3,1155.3 1257.7,1157.3 1259.1,1159.4 1260.5,1161.5 1261.9,1163.5 1263.3,1165.6 1264.7,1167.7 1266.0,1169.8 1267.4,1171.9 1268.8,1173.9 1270.2,1176.0 1271.6,1178.1 1272.9,1180.2 1274.3,1182.3 1275.7,1184.4 1277.0,1186.5 1278.4,1188.6 1279.7,1190.7 1281.0,1192.8 1282.4,1194.9 1283.7,1197.0 1285.1,1199.2 1286.4,1201.3 1287.7,1203.4 1289.1,1205.5 1290.4,1207.6 1291.8,1209.7 1293.2,1211.8 1294.5,1213.9 1295.9,1215.9 1297.4,1218.0 1298.8,1220.0 1300.3,1222.1 1301.7,1224.1 1303.2,1226.1 1304.8,1228.1 1306.3,1230.0 1307.9,1231.9 1309.6,1233.8 1311.2,1235.7 1312.9,1237.5 1314.7,1239.3 1316.5,1241.1 1318.3,1242.8 1320.1,1244.5 1322.0,1246.1 1324.0,1247.6 1326.0,1249.2 1328.0,1250.6 1330.0,1252.1 1332.1,1253.4 1334.2,1254.8 1336.4,1256.0 1338.6,1257.3 1340.8,1258.5 1343.0,1259.6 1345.2,1260.7 1347.5,1261.8 1349.8,1262.8 1352.1,1263.8 1354.4,1264.7 1356.7,1265.7 1359.1,1266.5 1361.4,1267.4 1363.8,1268.2 1366.2,1268.9 1368.5,1269.7 1370.9,1270.4 1373.3,1271.1 1375.8,1271.7 1378.2,1272.3 1380.6,1272.8 1383.1,1273.2 1385.6,1273.6 1388.1,1273.8 1390.6,1274.0 1393.1,1274.1 1395.6,1274.1 1398.1,1274.1 1400.6,1274.0 1403.1,1273.9 1405.6,1273.9 1408.1,1273.8 1410.6,1273.8 1413.1,1273.8 1415.6,1273.8 1418.1,1274.0 1420.5,1274.2 1423.0,1274.5 1425.5,1274.9 1428.0,1275.3 1430.4,1275.7 1432.9,1276.2 1435.3,1276.6 1437.8,1277.1 1440.3,1277.6 1442.7,1278.0 1445.2,1278.5 1447.6,1278.9 1450.1,1279.4 1452.6,1279.8 1455.0,1280.2 1457.5,1280.7 1459.9,1281.1 1462.4,1281.6 1464.8,1282.1 1467.3,1282.6 1469.7,1283.1 1472.2,1283.6 1474.6,1284.1 1477.1,1284.6 1479.5,1285.2 1482.0,1285.7 1484.4,1286.2 1486.9,1286.7 1489.3,1287.2 1491.8,1287.7 1494.2,1288.2 1496.7,1288.7 1499.1,1289.2 1501.6,1289.6 1504.0,1290.0 1506.5,1290.4 1509.0,1290.8 1511.5,1291.2 1513.9,1291.5 1516.4,1291.8 1518.9,1292.0 1521.4,1292.2 1523.9,1292.4 1526.4,1292.5 1528.9,1292.6 1531.4,1292.7 1533.9,1292.7 1536.4,1292.6 1538.9,1292.5 1541.4,1292.4 1543.9,1292.2 1546.4,1291.9 1548.8,1291.6 1551.3,1291.3 1553.8,1290.9 1556.2,1290.4 1558.7,1289.9 1561.1,1289.3 1563.5,1288.7 1565.9,1288.0 1568.3,1287.3 1570.7,1286.5 1573.1,1285.7 1575.4,1284.8 1577.7,1283.9 1580.0,1283.0 1582.4,1282.0 1584.6,1281.0 1586.9,1280.0 1589.2,1279.0 1591.5,1278.0 1593.8,1277.0 1596.1,1276.0 1598.4,1275.1 1600.8,1274.2 1603.1,1273.4 1605.5,1272.6 1607.9,1272.0 1610.4,1271.4 1612.8,1270.9 1615.3,1270.5 1617.8,1270.3 1620.3,1270.2 1622.8,1270.2 1625.3,1270.4 1627.7,1270.6 1630.2,1271.0 1632.7,1271.4 1635.2,1271.8 1637.6,1272.2 1640.1,1272.6 1642.6,1273.0 1645.0,1273.4 1647.5,1273.7 1650.0,1274.1 1652.5,1274.4 1654.9,1274.8 1657.4,1275.2 1659.8,1275.7 1662.3,1276.2 1664.7,1276.7 1667.2,1277.4 1669.6,1278.1 1671.9,1278.8 1674.3,1279.7 1676.6,1280.5 1679.0,1281.4 1681.3,1282.3 1683.7,1283.1 1686.0,1284.0 1688.4,1284.8 1690.8,1285.6 1693.1,1286.3 1695.6,1287.0 1698.0,1287.6 1700.4,1288.1 1702.9,1288.5 1705.4,1288.9 1707.8,1289.3 1710.3,1289.6 1712.8,1290.0 1715.3,1290.3 1717.7,1290.7 1720.2,1291.1 1722.7,1291.5 1725.1,1292.0 1727.6,1292.5 1730.0,1293.0 1732.5,1293.6 1734.9,1294.2 1737.3,1294.8 1739.7,1295.4 1742.1,1296.1 1744.6,1296.7 1747.0,1297.4 1749.4,1298.1 1751.8,1298.8 1754.2,1299.5 1756.6,1300.2 1758.9,1300.9 1761.3,1301.7 1763.7,1302.4 1766.1,1303.1 1768.5,1303.8 1770.9,1304.6 1773.3,1305.3 1775.7,1306.1 1778.0,1306.9 1780.4,1307.8 1782.7,1308.7 1785.0,1309.6 1787.3,1310.6 1789.6,1311.6 1791.9,1312.7 1794.1,1313.8 1796.4,1314.8 1798.6,1315.9 1800.9,1317.0 1803.1,1318.2 1805.4,1319.3 1807.6,1320.3 1809.9,1321.4 1812.1,1322.5 1814.4,1323.5 1816.7,1324.5 1819.0,1325.5 1821.3,1326.4 1823.6,1327.3 1826.0,1328.2 1828.3,1329.1 1830.7,1329.9 1833.1,1330.7 1835.4,1331.5 1837.8,1332.2 1840.2,1333.0 1842.6,1333.7 1845.0,1334.4 1847.4,1335.0 1849.8,1335.7 1852.3,1336.3 1854.7,1336.9 1857.1,1337.4 1859.6,1338.0 1862.0,1338.6 1864.4,1339.1 1866.9,1339.6 1869.3,1340.1 1871.8,1340.6 1874.2,1341.1 1876.7,1341.5 1879.2,1342.0 1881.6,1342.4 1884.1,1342.9 1886.5,1343.3 1889.0,1343.7 1891.5,1344.1 1893.9,1344.6 1896.4,1345.0 1898.9,1345.4 1901.3,1345.8 1903.8,1346.2 1906.3,1346.6 1908.7,1347.0 1911.2,1347.4 1913.7,1347.8 1916.1,1348.2 1918.6,1348.6 1921.1,1349.0 1923.5,1349.4 1926.0,1349.9 1928.5,1350.3 1930.9,1350.6 1933.4,1351.0 1935.9,1351.3 1938.4,1351.6 1940.9,1351.9 1943.3,1352.1 1945.8,1352.3 1948.3,1352.4 1950.8,1352.4 1953.3,1352.4 1955.8,1352.2 1958.3,1352.1 1960.8,1351.8 1963.3,1351.5 1965.8,1351.2 1968.2,1350.8 1970.7,1350.4 1973.2,1350.1 1975.7,1349.7 1978.1,1349.3 1980.6,1349.0 1983.1,1348.7 1985.6,1348.4 1988.1,1348.2 1990.6,1348.0 1993.1,1347.8 1995.6,1347.8 1998.1,1347.8 2000.6,1347.9 2003.0,1348.1 2005.5,1348.4 2008.0,1348.8 2009.5,1349.1"/>
</g>
<g filter="url(#bin)" font-family="Liberation Sans, Arial, sans-serif" font-size="79.4" fill="#000"><text transform="translate(368.0,1550) scale(0.905,1)">400</text><text transform="translate(833.2,1550) scale(0.905,1)">450</text><text transform="translate(1298.3,1550) scale(0.905,1)">500</text><text transform="translate(1763.5,1550) scale(0.905,1)">550</text></g>
<g filter="url(#bin)">
<text x="943.2" y="1681.3" font-family="Noto Serif CJK SC, Liberation Serif, serif" font-size="83" fill="#000">&#955;</text>
<text x="1013.5 1045.35 1100.45 1184.3" y="1681.5" font-family="Liberation Sans, Arial, sans-serif" font-size="103" fill="#000">(nm)</text>
<text transform="translate(93,1000) rotate(-90)" x="-1.8 67.65 130 155.25 188.95 248.55 279.05 342" y="0" font-family="Liberation Sans, Arial, sans-serif" font-size="102.75" fill="#000">PL (a.u)</text>
</g>
<g font-family="Liberation Sans, Arial, sans-serif" fill="#000" filter="url(#bin)"><rect x="1436.5" y="67.5" width="514" height="231" fill="none" stroke="#000" stroke-width="3"/><rect x="1467" y="104" width="98" height="11" fill="#000000"/><text transform="translate(1577,125) scale(0.905,1)" font-size="48">TiO</text><text transform="translate(1646.8,143) scale(0.95,1)" font-size="29">2</text><text transform="translate(1672.0,125) scale(0.905,1)" font-size="48">NT</text><rect x="1467" y="178" width="98" height="11" fill="#ff0000"/><text transform="translate(1577,199) scale(0.905,1)" font-size="48">10 min Ag/TiO</text><text transform="translate(1853.2,217) scale(0.95,1)" font-size="29">2</text><text transform="translate(1878.7,199) scale(0.905,1)" font-size="48">NT</text><rect x="1467" y="251" width="98" height="12" fill="#008080"/><text transform="translate(1577,273) scale(0.905,1)" font-size="48">20 min Ag/TiO</text><text transform="translate(1853.8,291) scale(0.95,1)" font-size="29">2</text><text transform="translate(1878.7,273) scale(0.905,1)" font-size="48">NT</text></g></svg>
</body></html>
